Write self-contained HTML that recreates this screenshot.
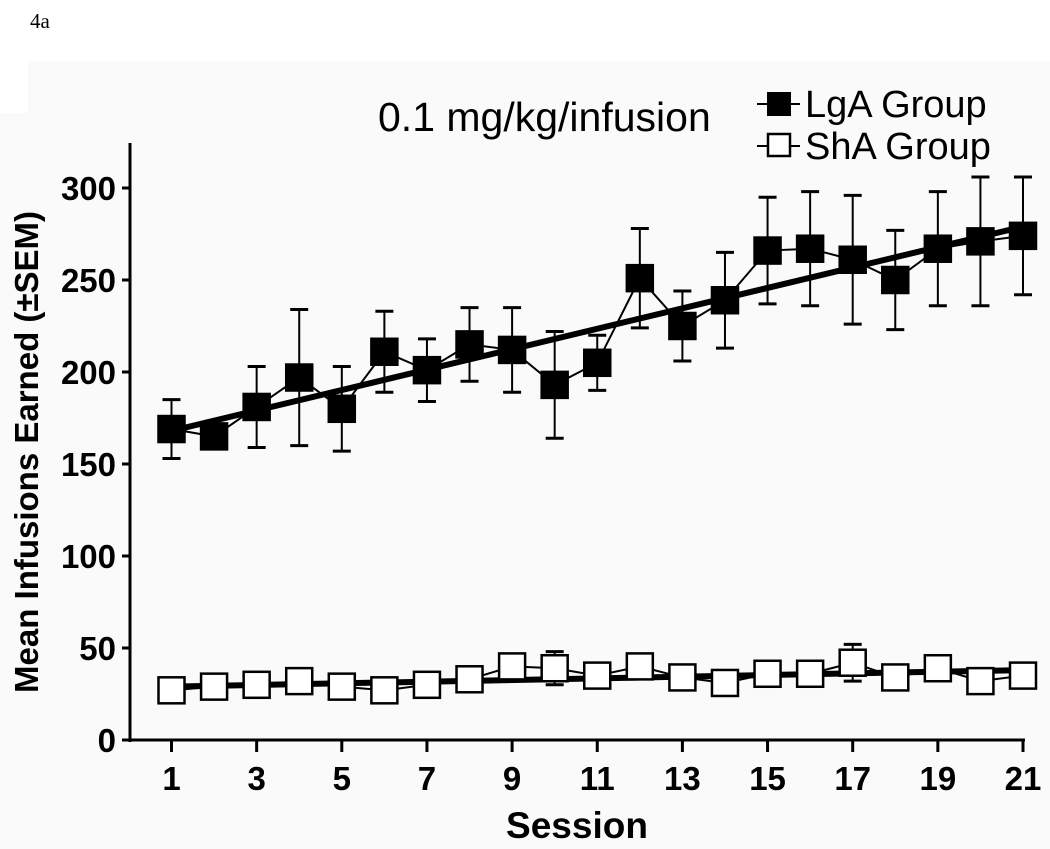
<!DOCTYPE html>
<html><head><meta charset="utf-8"><style>
body{margin:0;background:#fff;}
svg{display:block;font-family:"Liberation Sans",Arial,sans-serif;}
</style></head><body>
<svg id="chart" width="1050" height="849">
<rect x="0" y="0" width="1050" height="849" fill="#fff"/>
<path d="M28,62 H1050 V849 H0 V113 H28 Z" fill="#fafafa"/>
<text x="30" y="28" font-family="Liberation Serif,serif" font-size="21">4a</text>
<text x="378" y="131" font-size="41">0.1 mg/kg/infusion</text>
<g>
<line x1="757" y1="104" x2="800" y2="104" stroke="#000" stroke-width="2"/>
<rect x="767" y="92" width="24" height="24" fill="#000"/>
<text x="805" y="117" font-size="38">LgA Group</text>
<line x1="757" y1="146" x2="800" y2="146" stroke="#000" stroke-width="2"/>
<rect x="768" y="134" width="22" height="22" fill="#fff" stroke="#000" stroke-width="2.5"/>
<text x="805" y="159" font-size="38">ShA Group</text>
</g>
<text transform="translate(38,452) rotate(-90)" text-anchor="middle" font-size="33" font-weight="bold">Mean Infusions Earned (±SEM)</text>
<text x="577" y="838" text-anchor="middle" font-size="37" font-weight="bold">Session</text>
<g id="axes"></g>
<g id="marks"></g>
</svg>
<script>
const sessions=[1,2,3,4,5,6,7,8,9,10,11,12,13,14,15,16,17,18,19,20,21];
const lgaMean=[169,165,181,197,180,211,201,215,212,193,205,251,225,239,266,267,261,250,267,271,274];
const lgaSem=[16,5,22,37,23,22,17,20,23,29,15,27,19,26,29,31,35,27,31,35,32];
const shaMean=[27,29,30,32,29,27,30,33,40,39,35,40,34,31,36,36,42,34,39,32,35];
const shaSem=[2,2,2,3,2,2,2,3,4,9,2,2,2,2,2,2,10,2,2,2,2];
const lgaFit=[168,279];
const shaFit=[29,38];
const yTicks=[0,50,100,150,200,250,300];
const xTicks=[1,3,5,7,9,11,13,15,17,19,21];
const NS='http://www.w3.org/2000/svg';
const X0=130,Y0=740;
function xs(s){return 171.5+(s-1)*(1023-171.5)/20;}
function ys(v){return Y0-v*552/300;}
function mk(tag,attrs,parent){const e=document.createElementNS(NS,tag);for(const k in attrs)e.setAttribute(k,attrs[k]);parent.appendChild(e);return e;}
const axes=document.getElementById('axes'),marks=document.getElementById('marks');
let e=mk('line',{x1:X0,y1:143,x2:X0,y2:Y0+2,stroke:'#000','stroke-width':3},axes);


e=mk('line',{x1:X0-2,y1:Y0,x2:1025,y2:Y0,stroke:'#000','stroke-width':3},axes);


yTicks.forEach(v=>{
 mk('line',{x1:X0-8,y1:ys(v),x2:X0,y2:ys(v),stroke:'#000','stroke-width':3},axes);
 const t=mk('text',{x:X0-14,y:ys(v)+12,'text-anchor':'end','font-size':33,'font-weight':'bold'},axes);
 t.textContent=v;
 
 
});
xTicks.forEach(s=>{
 mk('line',{x1:xs(s),y1:Y0,x2:xs(s),y2:Y0+12,stroke:'#000','stroke-width':3},axes);
 const t=mk('text',{x:xs(s),y:Y0+50,'text-anchor':'middle','font-size':33,'font-weight':'bold'},axes);
 t.textContent=s;
 
 
});
function series(mean,sem,fit,fill,name){
 const g=mk('g',{},marks);
 
 
 mean.forEach((m,i)=>{
  const x=xs(sessions[i]);
  mk('line',{x1:x,y1:ys(m+sem[i]),x2:x,y2:ys(m-sem[i]),stroke:'#000','stroke-width':2},g);
  mk('line',{x1:x-9,y1:ys(m+sem[i]),x2:x+9,y2:ys(m+sem[i]),stroke:'#000','stroke-width':3},g);
  mk('line',{x1:x-9,y1:ys(m-sem[i]),x2:x+9,y2:ys(m-sem[i]),stroke:'#000','stroke-width':3},g);
 });
 const pts=mean.map((m,i)=>xs(sessions[i])+','+ys(m)).join(' ');
 const pl=mk('polyline',{points:pts,fill:'none',stroke:'#000','stroke-width':2},g);
 
 
 const fl=mk('line',{x1:xs(sessions[0]),y1:ys(fit[0]),x2:xs(sessions[sessions.length-1]),y2:ys(fit[1]),stroke:'#000','stroke-width':6},g);
 
 
 mean.forEach((m,i)=>{
  const x=xs(sessions[i]);
  const r=mk('rect',{x:x-13,y:ys(m)-13,width:26,height:26,fill:fill,stroke:'#000','stroke-width':2.5},g);
  
  
 });
}
series(shaMean,shaSem,shaFit,'#fff','sha');
series(lgaMean,lgaSem,lgaFit,'#000','lga');
</script>
</body></html>
